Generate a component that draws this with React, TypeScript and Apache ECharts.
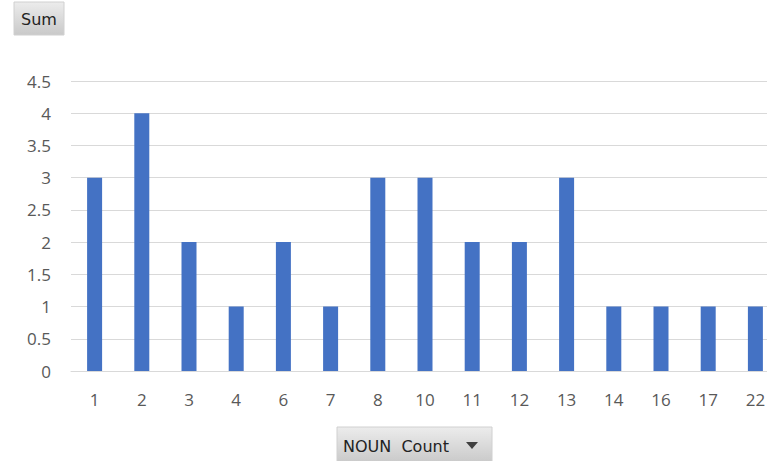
import React, { useEffect, useRef } from "react";
import * as echarts from "echarts";

const categories = ["1", "2", "3", "4", "6", "7", "8", "10", "11", "12", "13", "14", "16", "17", "22"];
const sumValues = [3, 4, 2, 1, 2, 1, 3, 3, 2, 2, 3, 1, 1, 1, 1];
const yTicks = { min: 0, max: 4.5, interval: 0.5 };

const btnFill = () =>
  new echarts.graphic.LinearGradient(0, 0, 0, 1, [
    { offset: 0, color: "#ececec" },
    { offset: 1, color: "#c9c9c9" },
  ]);

export default function App() {
  const ref = useRef<HTMLDivElement>(null);
  useEffect(() => {
    if (!ref.current) return;
    const chart = echarts.init(ref.current, null, { renderer: "svg" });
    chart.setOption({
      animation: false,
      backgroundColor: "#ffffff",
      grid: { left: 71, right: 0, top: 81, bottom: 90, containLabel: false },
      xAxis: {
        type: "category",
        data: categories,
        axisLine: { show: true, lineStyle: { color: "#d9d9d9", width: 1 } },
        axisTick: { show: false },
        axisLabel: { color: "#595959", fontSize: 17, margin: 20, fontFamily: "Open Sans" },
      },
      yAxis: {
        type: "value",
        min: yTicks.min,
        max: yTicks.max,
        interval: yTicks.interval,
        axisLine: { show: false },
        axisTick: { show: false },
        splitLine: { lineStyle: { color: "#d9d9d9", width: 1 } },
        axisLabel: { color: "#595959", fontSize: 17, margin: 20, fontFamily: "Open Sans" },
      },
      series: [
        {
          type: "bar",
          data: sumValues,
          barWidth: 15,
          itemStyle: { color: "#4472c4" },
        },
      ],
      graphic: [
        {
          type: "rect",
          shape: { x: 14, y: 2, width: 50, height: 33 },
          style: { fill: btnFill(), stroke: "#d0d0d0", lineWidth: 1 },
        },
        {
          type: "text",
          x: 39,
          y: 19,
          style: {
            text: "Sum",
            fill: "#222222",
            font: "16px 'DejaVu Sans', sans-serif",
            align: "center",
            verticalAlign: "middle",
          },
        },
        {
          type: "rect",
          shape: { x: 337, y: 427, width: 155, height: 36 },
          style: { fill: btnFill(), stroke: "#d0d0d0", lineWidth: 1 },
        },
        {
          type: "text",
          x: 343,
          y: 446,
          style: {
            text: "NOUN  Count",
            fill: "#222222",
            font: "16px 'DejaVu Sans', sans-serif",
            align: "left",
            verticalAlign: "middle",
          },
        },
        {
          type: "polygon",
          shape: { points: [[466, 442], [478, 442], [472, 449]] },
          style: { fill: "#404040" },
        },
      ],
    });
    return () => chart.dispose();
  }, []);
  return (
    <div
      style={{
        position: "absolute",
        left: 0,
        top: 0,
        width: 767,
        height: 461,
        overflow: "hidden",
      }}
    >
      <div ref={ref} style={{ width: 779, height: 461 }} />
    </div>
  );
}
